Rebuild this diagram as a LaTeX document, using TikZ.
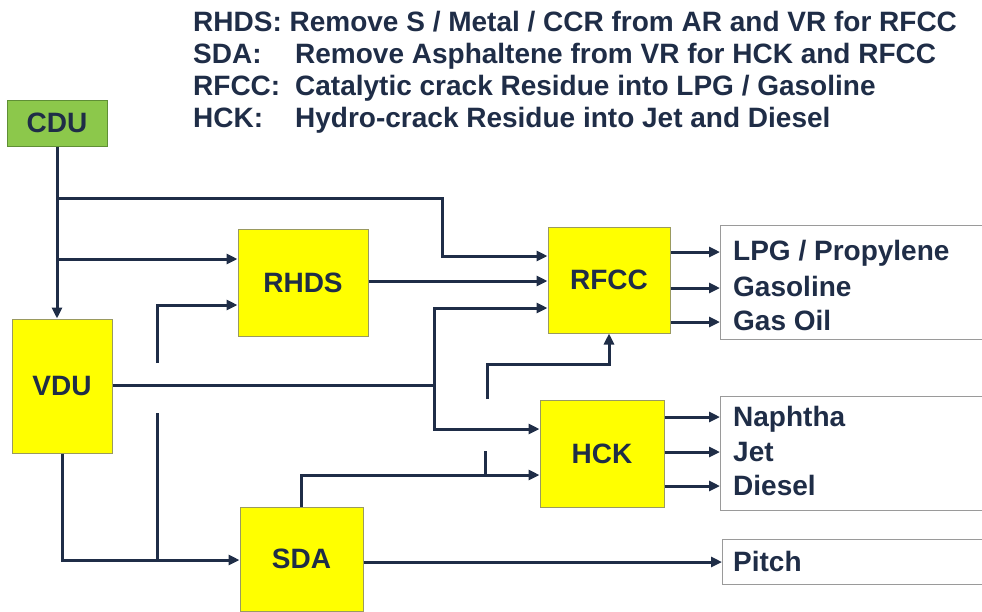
\documentclass[tikz,border=0pt]{standalone}
\usepackage{fontspec}
\setmainfont{Liberation Sans}
\usetikzlibrary{positioning, arrows.meta, calc}
\definecolor{ink}{HTML}{1F2D47}
\definecolor{unitfill}{HTML}{FFFF00}
\definecolor{unitedge}{HTML}{9A9A60}
\definecolor{cdufill}{HTML}{8CC84B}
\definecolor{cduedge}{HTML}{5F8F35}
\definecolor{prodedge}{HTML}{9A9A9A}

\begin{document}
\begin{tikzpicture}[x=1pt, y=-1pt, font=\fontsize{28}{32}\selectfont\bfseries, text=ink,
  unit/.style={draw=unitedge, fill=unitfill, line width=1pt, inner sep=0pt},
  prod/.style={draw=prodedge, line width=1pt, anchor=north west, inner sep=0pt},
  pipe/.style={draw=ink, line width=3pt},
  flow/.style={pipe, -{Triangle[length=11pt,width=10pt]}},
  hdr/.style={anchor=base west, inner sep=0pt},
  item/.style={anchor=base west, inner sep=0pt}]
\useasboundingbox (0,0) rectangle (982,611);
% header
\node[hdr] (h1) at (193,31) {RHDS: Remove S / Metal / CCR from AR and VR for RFCC};
\foreach \y/\key/\txt in {63/SDA:/{Remove Asphaltene from VR for HCK and RFCC},
  95/RFCC:/{Catalytic crack Residue into LPG / Gasoline},
  127/HCK:/{Hydro-crack Residue into Jet and Diesel}}
  {\node[hdr] at (193,\y) {\key}; \node[hdr] at (295,\y) {\txt};}
% units
\node[unit, fill=cdufill, draw=cduedge, minimum width=100, minimum height=46] (cdu) at (57,123) {CDU};
\node[unit, minimum width=100, minimum height=134] (vdu) at (62,386) {VDU};
\node[unit, minimum width=130, minimum height=107] (rhds) at (303,282.5) {RHDS};
\node[unit, minimum width=122, minimum height=106] (rfcc) at (609,280) {RFCC};
\node[unit, minimum width=124, minimum height=107] (hck) at (602,453.5) {HCK};
\node[unit, minimum width=123, minimum height=104] (sda) at (301.5,559) {SDA};
% products
\node[prod, minimum width=280, minimum height=114] (p1) at (720,225) {};
\node[prod, minimum width=280, minimum height=114] (p2) at (720,396) {};
\node[prod, minimum width=280, minimum height=45] (p3) at (722,539) {};
\node[item] at (733,260) {LPG / Propylene};
\node[item] at (733,296) {Gasoline};
\node[item] at (733,330) {Gas Oil};
\node[item] at (733,426) {Naphtha};
\node[item] at (733,461) {Jet};
\node[item] at (733,495) {Diesel};
\node[item] at (733,571) {Pitch};
% CDU feeds
\draw[flow] (cdu.south) -- (cdu.south |- vdu.north);
\draw[flow] (cdu.south |- 0,198) -| (442,256) -- (rfcc.west |- 0,256);
\draw[flow] (cdu.south |- 0,259) -- (rhds.west |- 0,259);
\draw[flow] (rhds.east |- 0,281) -- (rfcc.west |- 0,281);
% VDU feeds
\coordinate (vj) at (434,385);
\draw[pipe] (vdu.east |- vj) -- (vj);
\draw[flow] (vj) |- (rfcc.west |- 0,308);
\draw[flow] (vj) |- (hck.west |- 0,429);
\draw[flow] (vdu.south) |- (sda.west |- 0,560);
\coordinate (vs) at (157,560);
\coordinate (ve) at (157,413);
\draw[pipe] (vs) -- (ve);
\coordinate (vr) at (157,363);
\draw[flow] (vr) |- (rhds.west |- 0,305);
% SDA feeds
\draw[flow] (sda.north) |- (hck.west |- 0,475);
\coordinate (sj) at (485,475);
\coordinate (se) at (485,451);
\draw[pipe] (sj) -- (se);
\coordinate (sr) at (487,399);
\draw[flow] (sr) -- (487,364) -| (rfcc.south);
% products
\foreach \y in {252,288,322} \draw[flow] (rfcc.east |- 0,\y) -- (p1.west |- 0,\y);
\foreach \y in {417,452,486} \draw[flow] (hck.east |- 0,\y) -- (p2.west |- 0,\y);
\draw[flow] (sda.east |- 0,562) -- (p3.west |- 0,562);
\end{tikzpicture}
\end{document}
